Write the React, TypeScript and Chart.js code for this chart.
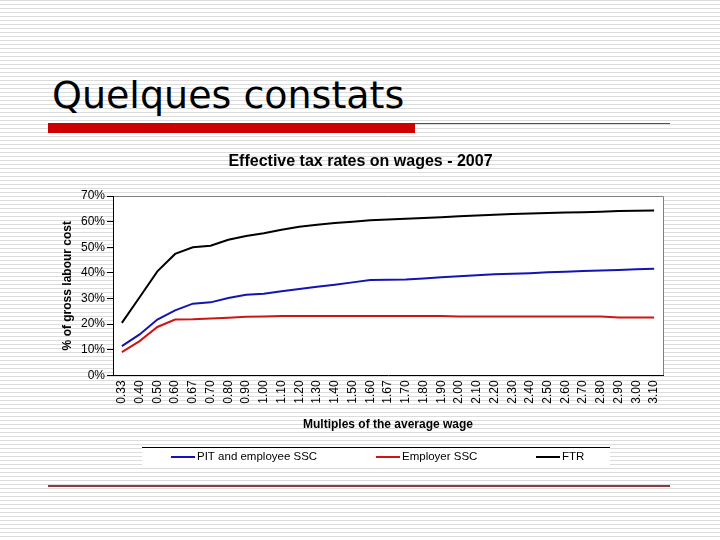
import React, { useEffect, useRef } from "react";
import { Chart, registerables } from "chart.js";

Chart.register(...registerables);

const categories = ["0.33","0.40","0.50","0.60","0.67","0.70","0.80","0.90","1.00","1.10","1.20","1.30","1.40","1.50","1.60","1.67","1.70","1.80","1.90","2.00","2.10","2.20","2.30","2.40","2.50","2.60","2.70","2.80","2.90","3.00","3.10"];
const pitEmployee = [11.4,16.0,21.8,25.4,28.0,28.5,30.2,31.5,31.9,32.8,33.7,34.6,35.4,36.3,37.2,37.3,37.4,37.8,38.3,38.7,39.1,39.5,39.7,39.9,40.2,40.4,40.7,40.9,41.1,41.4,41.6];
const employerSSC = [9.1,13.4,18.9,21.8,21.9,22.2,22.5,22.9,23.0,23.2,23.2,23.2,23.2,23.2,23.2,23.2,23.2,23.2,23.2,23.0,23.0,23.0,23.0,23.0,23.0,23.0,23.0,23.0,22.6,22.6,22.6];
const ftr = [20.5,30.5,40.6,47.4,50.0,50.6,52.9,54.4,55.5,56.8,58.0,58.8,59.5,60.0,60.5,60.8,61.1,61.4,61.7,62.1,62.4,62.7,63.0,63.2,63.4,63.6,63.7,63.9,64.1,64.2,64.3];
const seriesLabels = ["PIT and employee SSC", "Employer SSC", "FTR"];
const seriesColors = ["#1414b4", "#d01414", "#000000"];
const yTicks = [0, 10, 20, 30, 40, 50, 60, 70];

const FONT = "'Liberation Sans', Arial, sans-serif";

const plotFramePlugin = {
  id: "plotFrame",
  beforeDraw(chart: any) {
    const { ctx, chartArea } = chart;
    ctx.save();
    ctx.fillStyle = "#ffffff";
    ctx.fillRect(chartArea.left, chartArea.top, chartArea.right - chartArea.left, chartArea.bottom - chartArea.top);
    ctx.strokeStyle = "#808080";
    ctx.lineWidth = 1;
    ctx.beginPath();
    ctx.moveTo(chartArea.left, Math.round(chartArea.top) + 0.5);
    ctx.lineTo(Math.round(chartArea.right) + 0.5, Math.round(chartArea.top) + 0.5);
    ctx.lineTo(Math.round(chartArea.right) + 0.5, chartArea.bottom);
    ctx.stroke();
    ctx.restore();
  },
};

// legend item start offsets (px from the legend box's left edge)
const legendOffsets = [29, 234, 394];

const customLegendPlugin = {
  id: "customLegend",
  afterDraw(chart: any) {
    const { ctx } = chart;
    const datasets = chart.data.datasets;
    const boxLeft = 142, boxRight = 610, boxTop = 447, boxBottom = 467;
    ctx.save();
    ctx.fillStyle = "#ffffff";
    ctx.fillRect(boxLeft, boxTop, boxRight - boxLeft, boxBottom - boxTop);
    ctx.strokeStyle = "#000000";
    ctx.lineWidth = 1;
    ctx.beginPath();
    ctx.moveTo(boxLeft, boxTop + 0.5);
    ctx.lineTo(boxRight, boxTop + 0.5);
    ctx.stroke();
    ctx.font = `11.5px ${FONT}`;
    ctx.textBaseline = "middle";
    const lineW = 24, gapText = 2;
    const cy = (boxTop + boxBottom) / 2;
    datasets.forEach((d: any, i: number) => {
      const x = boxLeft + legendOffsets[i];
      ctx.strokeStyle = d.borderColor;
      ctx.lineWidth = 2;
      ctx.beginPath();
      ctx.moveTo(x, cy);
      ctx.lineTo(x + lineW, cy);
      ctx.stroke();
      ctx.fillStyle = "#000000";
      ctx.fillText(d.label, x + lineW + gapText, cy);
    });
    ctx.restore();
  },
};

export default function App() {
  const canvasRef = useRef<HTMLCanvasElement | null>(null);

  useEffect(() => {
    if (!canvasRef.current) return;
    const values = [pitEmployee, employerSSC, ftr];
    const chart = new Chart(canvasRef.current, {
      type: "line",
      data: {
        labels: categories,
        datasets: values.map((v, i) => ({
          label: seriesLabels[i],
          data: v,
          borderColor: seriesColors[i],
          backgroundColor: seriesColors[i],
          borderWidth: 2,
          pointRadius: 0,
          tension: 0,
          fill: false,
        })),
      },
      options: {
        responsive: false,
        animation: false,
        events: [],
        layout: { padding: { left: 58, right: 57, top: 150, bottom: 108.4 } },
        plugins: {
          legend: { display: false },
          tooltip: { enabled: false },
          title: {
            display: true,
            text: "Effective tax rates on wages - 2007",
            color: "#000",
            font: { family: FONT, size: 16, weight: "bold" },
            padding: { top: 2, bottom: 24.8 },
          },
        },
        scales: {
          x: {
            type: "category",
            offset: true,
            grid: { display: false, drawTicks: false },
            border: { display: true, color: "#000", width: 1 },
            ticks: {
              autoSkip: false,
              maxRotation: 90,
              minRotation: 90,
              padding: 5,
              color: "#000",
              font: { family: FONT, size: 12 },
            },
            title: {
              display: true,
              text: "Multiples of the average wage",
              color: "#000",
              font: { family: FONT, size: 12, weight: "bold" },
              padding: 0,
            },
            afterFit: (s: any) => { s.height = 56.2; },
          },
          y: {
            min: 0,
            max: 70,
            afterBuildTicks: (s: any) => { s.ticks = yTicks.map((v) => ({ value: v })); },
            ticks: {
              padding: 2,
              color: "#000",
              font: { family: FONT, size: 12 },
              callback: (v: any) => `${v}%`,
            },
            grid: { drawOnChartArea: false, drawTicks: true, tickLength: 6, color: "#000" },
            border: { display: true, color: "#000", width: 1 },
            title: {
              display: true,
              text: "% of gross labour cost",
              color: "#000",
              font: { family: FONT, size: 12, weight: "bold" },
              padding: { top: 2, bottom: 0 },
            },
            afterFit: (s: any) => { s.width = 55; },
          },
        },
      },
      plugins: [plotFramePlugin, customLegendPlugin],
    });
    return () => chart.destroy();
  }, []);

  return (
    <div
      style={{
        position: "absolute",
        left: 0,
        top: 0,
        width: 720,
        height: 540,
        overflow: "hidden",
        backgroundColor: "#ffffff",
        backgroundImage: "repeating-linear-gradient(to bottom, #dcdcdc 0px, #dcdcdc 1px, #ffffff 1px, #ffffff 4px)",
      }}
    >
      <div
        style={{
          position: "absolute",
          left: 52,
          top: 76,
          fontFamily: "'DejaVu Sans', Verdana, sans-serif",
          fontSize: 38,
          lineHeight: "38px",
          color: "#000",
          whiteSpace: "nowrap",
        }}
      >
        Quelques constats
      </div>
      <div style={{ position: "absolute", left: 48, top: 123, width: 367, height: 10, background: "#cc0000" }} />
      <div style={{ position: "absolute", left: 415, top: 123, width: 255, height: 1, background: "#993333" }} />
      <div style={{ position: "absolute", left: 48, top: 485, width: 622, height: 2, background: "#8b3a4a" }} />
      <canvas
        ref={canvasRef}
        width={720}
        height={540}
        style={{ position: "absolute", left: 0, top: 0, width: 720, height: 540 }}
      />
    </div>
  );
}
